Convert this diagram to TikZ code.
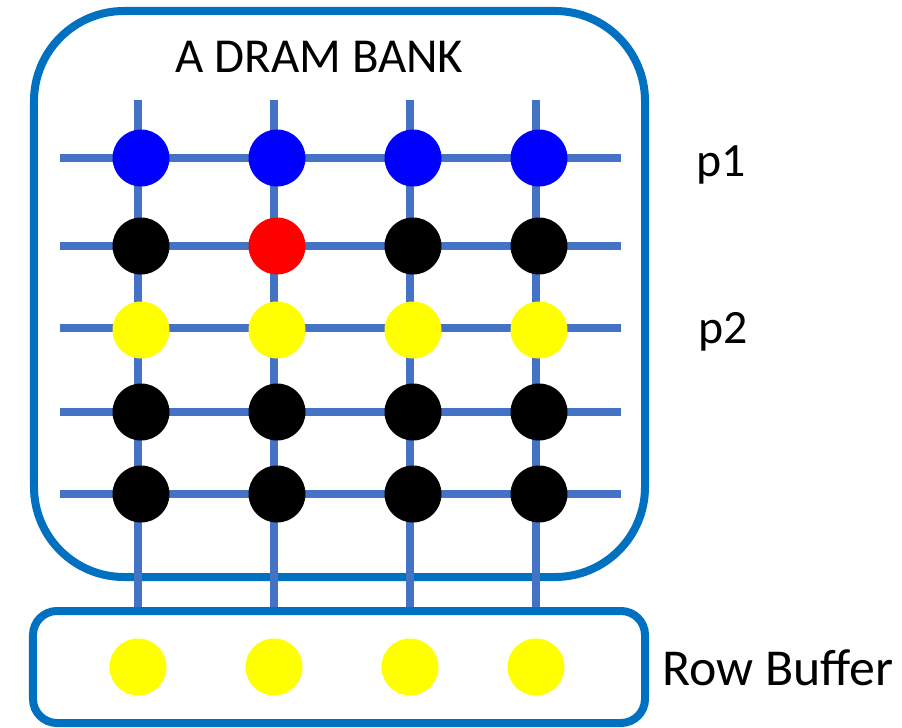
\documentclass[tikz,border=0pt]{standalone}
\usepackage{fontspec}
\setmainfont{Carlito}
\usepackage{xcolor}
\definecolor{frame}{HTML}{0070C0}
\definecolor{wire}{HTML}{4472C4}
\definecolor{cellblue}{HTML}{0000FF}
\definecolor{cellred}{HTML}{FF0000}
\definecolor{cellyellow}{HTML}{FFFF00}
\usepackage{tikz}

\begin{document}
\begin{tikzpicture}[x=1bp,y=-1bp,every node/.style={font=\fontsize{48}{58}\selectfont,inner sep=0pt},
  box/.style={draw=frame,line width=8bp,rectangle},
  cell/.style={circle,minimum size=57bp},
  wireline/.style={draw=wire,line width=7.5bp}]
\useasboundingbox (0,0) rectangle (902,728);
\node[box,rounded corners=90bp,minimum width=611bp,minimum height=566bp] (bank) at (339.5,294) {};
\node[box,rounded corners=24bp,minimum width=612bp,minimum height=112bp] (buffer) at (339,667) {};
\coordinate (V1) at (138,100);
\coordinate (V2) at (274,100);
\coordinate (V3) at (410,100);
\coordinate (V4) at (536,100);
\coordinate (H1w) at (60,158);
\coordinate (H1e) at (621,158);
\coordinate (H2w) at (60,246);
\coordinate (H2e) at (621,246);
\coordinate (H3w) at (60,328);
\coordinate (H3e) at (621,328);
\coordinate (H4w) at (60,412);
\coordinate (H4e) at (621,412);
\coordinate (H5w) at (60,494);
\coordinate (H5e) at (621,494);
\draw[wireline] (H1w) -- (H1e);
\draw[wireline] (H2w) -- (H2e);
\draw[wireline] (H3w) -- (H3e);
\draw[wireline] (H4w) -- (H4e);
\draw[wireline] (H5w) -- (H5e);
\draw[wireline] (V1) -- (V1 |- buffer.north);
\draw[wireline] (V2) -- (V2 |- buffer.north);
\draw[wireline] (V3) -- (V3 |- buffer.north);
\draw[wireline] (V4) -- (V4 |- buffer.north);
\node[cell,fill=cellblue] (A1) at (141,158) {};
\node[cell,fill=cellblue] (A2) at (277,158) {};
\node[cell,fill=cellblue] (A3) at (413,158) {};
\node[cell,fill=cellblue] (A4) at (539,158) {};
\node[cell,fill=black] (B1) at (141,246) {};
\node[cell,fill=cellred] (B2) at (277,246) {};
\node[cell,fill=black] (B3) at (413,246) {};
\node[cell,fill=black] (B4) at (539,246) {};
\node[cell,fill=cellyellow] (C1) at (141,330) {};
\node[cell,fill=cellyellow] (C2) at (277,330) {};
\node[cell,fill=cellyellow] (C3) at (413,330) {};
\node[cell,fill=cellyellow] (C4) at (539,330) {};
\node[cell,fill=black] (D1) at (141,412) {};
\node[cell,fill=black] (D2) at (277,412) {};
\node[cell,fill=black] (D3) at (413,412) {};
\node[cell,fill=black] (D4) at (539,412) {};
\node[cell,fill=black] (E1) at (141,494) {};
\node[cell,fill=black] (E2) at (277,494) {};
\node[cell,fill=black] (E3) at (413,494) {};
\node[cell,fill=black] (E4) at (539,494) {};
\node[cell,fill=cellyellow] (R1) at (138,667) {};
\node[cell,fill=cellyellow] (R2) at (274,667) {};
\node[cell,fill=cellyellow] (R3) at (410,667) {};
\node[cell,fill=cellyellow] (R4) at (536,667) {};
\node[anchor=base west,font=\fontsize{49}{59}\selectfont] (title) at (175,73) {A DRAM BANK};
\node[anchor=base west] (p1) at (696,177) {p1};
\node[anchor=base west] (p2) at (698,343) {p2};
\node[anchor=base west,font=\fontsize{52}{62}\selectfont] (rowbuf) at (662,685) {Row Buffer};
\end{tikzpicture}
\end{document}
